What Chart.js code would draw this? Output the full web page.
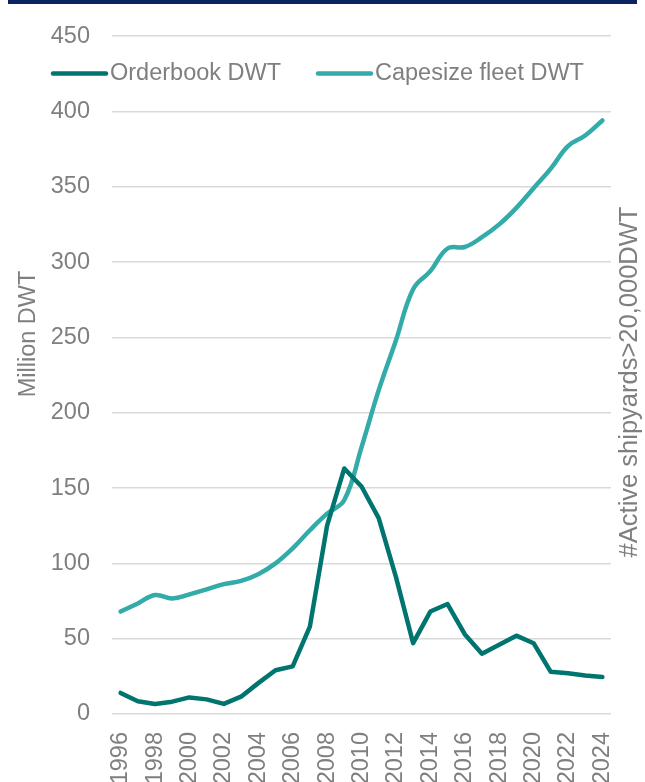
<!DOCTYPE html>
<html>
<head>
<meta charset="utf-8">
<script src="https://cdn.jsdelivr.net/npm/chart.js@4"></script>
<style>
  html, body { margin: 0; padding: 0; background: #fff; overflow: hidden; }
  #wrap { position: relative; width: 645px; height: 782px; }
  #topBar { position: absolute; left: 8px; top: 0; width: 629px; height: 4px; background: #0b2461; }
</style>
</head>
<body>
<div id="wrap">
  <canvas id="myChart" width="645" height="782"></canvas>
  <div id="topBar"></div>
</div>
<script>
// Years on the x axis
const years = [];
for (let y = 1996; y <= 2024; y++) years.push(String(y));

// Orderbook DWT (million DWT)
const orderbookDWT = [14, 8.4, 6.7, 8.2, 11, 9.7, 6.7, 11.5, 20.5, 29, 31.6, 58, 125, 163, 151,
  130, 91, 47, 68, 73, 53, 40, 46, 52, 47, 28, 27, 25.5, 24.5];

// Capesize fleet DWT (million DWT)
const capesizeDWT = [68, 73.4, 79, 76.7, 79.4, 82.7, 86.2, 88.4, 92.8, 100, 110, 122, 133, 142, 177,
  215, 248, 282, 294, 309, 310, 316.5, 325, 336, 349, 362, 377, 384, 394];

const seriesNames = ['Orderbook DWT', 'Capesize fleet DWT'];
const seriesColors = ['#00746f', '#33aba8'];
const leftTitle = 'Million DWT';
const rightTitle = '#Active shipyards>20,000DWT';

const textColor = '#7f7f7f';
const fontFamily = '"Liberation Sans", Arial, sans-serif';
const fontSize = 23.5;

// Legend and both axis titles drawn by hand (legend sits inside the plot)
const extrasPlugin = {
  id: 'extras',
  afterDraw(chart) {
    const ctx = chart.ctx;
    ctx.save();
    ctx.font = fontSize + 'px ' + fontFamily;
    ctx.fillStyle = textColor;
    ctx.textBaseline = 'middle';

    // legend
    const items = [{ x: 52, text: seriesNames[0], color: seriesColors[0] },
                   { x: 317, text: seriesNames[1], color: seriesColors[1] }];
    items.forEach(it => {
      ctx.strokeStyle = it.color;
      ctx.lineWidth = 4.5;
      ctx.lineCap = 'round';
      ctx.beginPath();
      ctx.moveTo(it.x + 1, 73.5);
      ctx.lineTo(it.x + 54, 73.5);
      ctx.stroke();
      ctx.textAlign = 'left';
      ctx.fillText(it.text, it.x + 58, 73.5);
    });

    // left axis title
    ctx.textAlign = 'center';
    ctx.save();
    ctx.translate(29, 334);
    ctx.rotate(-Math.PI / 2);
    ctx.fillText(leftTitle, 0, 0);
    ctx.restore();

    // right axis title (a bit larger in the original)
    ctx.save();
    ctx.font = '25.5px ' + fontFamily;
    ctx.translate(630, 382);
    ctx.rotate(-Math.PI / 2);
    ctx.fillText(rightTitle, 0, 0);
    ctx.restore();

    ctx.restore();
  }
};

window.onload = function() {
  const ctx = document.getElementById('myChart').getContext('2d');
  new Chart(ctx, {
    type: 'line',
    data: {
      labels: years,
      datasets: [{
        label: seriesNames[0],
        data: orderbookDWT,
        borderColor: seriesColors[0],
        backgroundColor: seriesColors[0],
        borderWidth: 4.5,
        tension: 0,
        pointRadius: 0,
        borderJoinStyle: 'round',
        borderCapStyle: 'round'
      }, {
        label: seriesNames[1],
        data: capesizeDWT,
        borderColor: seriesColors[1],
        backgroundColor: seriesColors[1],
        borderWidth: 4.5,
        tension: 0.4,
        pointRadius: 0,
        borderCapStyle: 'round'
      }]
    },
    options: {
      responsive: false,
      animation: false,
      layout: { padding: { top: 35, right: 34, bottom: 0, left: 0 } },
      plugins: {
        legend: { display: false },
        tooltip: { enabled: false }
      },
      scales: {
        x: {
          offset: true,
          grid: { display: false },
          border: { display: false },
          ticks: {
            autoSkip: false,
            minRotation: 90,
            maxRotation: 90,
            padding: 10,
            color: textColor,
            font: { family: fontFamily, size: fontSize },
            callback: function(value, index) {
              return index % 2 === 0 ? years[index] : '';
            }
          },
          afterFit: function(scale) { scale.height = 68; }
        },
        y: {
          min: 0,
          max: 450,
          grid: { color: '#d9d9d9', lineWidth: 1.5, drawTicks: false },
          border: { display: false },
          ticks: {
            stepSize: 50,
            padding: 22,
            color: textColor,
            font: { family: fontFamily, size: fontSize }
          },
          afterFit: function(scale) { scale.width = 112; }
        }
      }
    },
    plugins: [extrasPlugin]
  });
};
</script>
</body>
</html>
